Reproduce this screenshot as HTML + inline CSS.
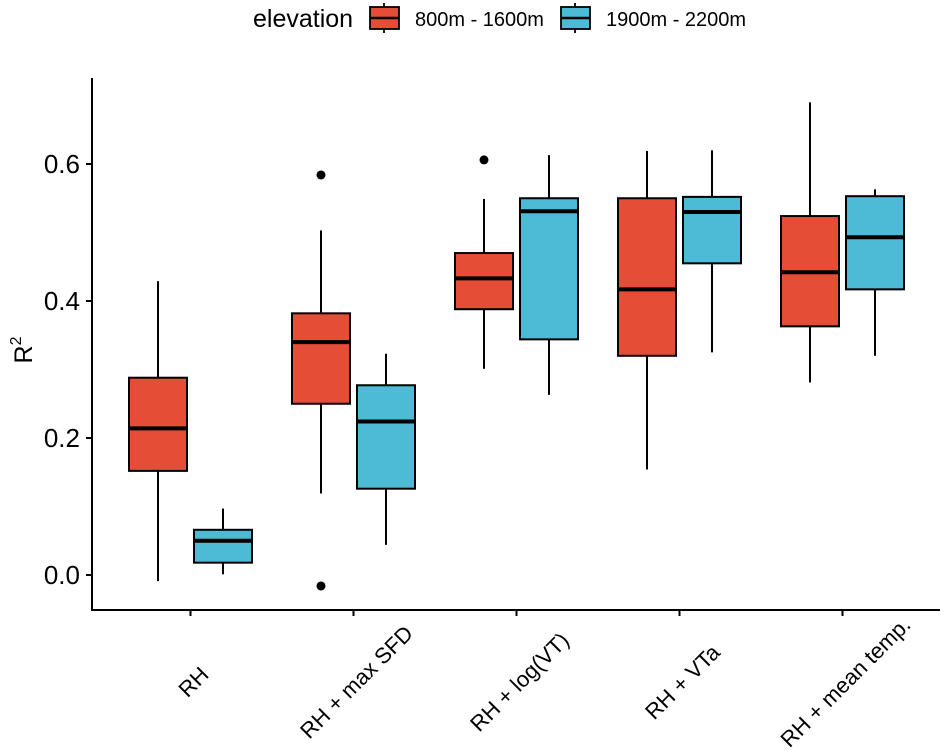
<!DOCTYPE html>
<html><head><meta charset="utf-8"><style>
html,body{margin:0;padding:0;background:#fff;}
svg{display:block;font-family:"Liberation Sans",Arial,sans-serif;}
</style></head><body>
<svg id="chart" width="945" height="752" viewBox="0 0 945 752" xmlns="http://www.w3.org/2000/svg">
<g id="legend">
<text x="253" y="27" font-size="25" fill="#000">elevation</text>
<g>
<line x1="384" y1="3" x2="384" y2="33" stroke="#000" stroke-width="1.8"/>
<rect x="370" y="7" width="29" height="22" fill="#E64D36" stroke="#000" stroke-width="1.8"/>
<line x1="370" y1="18" x2="399" y2="18" stroke="#000" stroke-width="2.5"/>
<text x="415" y="26" font-size="20">800m - 1600m</text>
</g>
<g>
<line x1="575" y1="3" x2="575" y2="33" stroke="#000" stroke-width="1.8"/>
<rect x="561" y="7" width="29" height="22" fill="#4DBBD6" stroke="#000" stroke-width="1.8"/>
<line x1="561" y1="18" x2="590" y2="18" stroke="#000" stroke-width="2.5"/>
<text x="606" y="26" font-size="20">1900m - 2200m</text>
</g>
</g>
<g id="axes"></g>
<g id="boxes"></g>
<text x="0" y="0" font-size="25" text-anchor="middle" transform="translate(32,350) rotate(-90)">R<tspan font-size="16" dy="-11">2</tspan></text>
</svg>
<script>
const categories = ["RH", "RH + max SFD", "RH + log(VT)", "RH + VTa", "RH + mean temp."];
const groups = ["800m - 1600m", "1900m - 2200m"];
const colors = ["#E64D36", "#4DBBD6"];
// [low whisker, Q1, median, Q3, high whisker] per category
const lowStats  = [[-0.009,0.152,0.214,0.288,0.429],[0.119,0.250,0.340,0.382,0.503],[0.301,0.388,0.433,0.470,0.549],[0.154,0.320,0.417,0.550,0.619],[0.281,0.363,0.442,0.524,0.690]];
const highStats = [[0.001,0.018,0.050,0.066,0.097],[0.044,0.126,0.224,0.277,0.323],[0.263,0.344,0.531,0.550,0.613],[0.325,0.455,0.530,0.552,0.620],[0.320,0.417,0.493,0.553,0.563]];
const lowOutliers  = [[],[0.584,-0.016],[0.606],[],[]];
const highOutliers = [[],[],[],[],[]];
const yTicks = [0.0, 0.2, 0.4, 0.6];
const yTickLabels = ["0.0", "0.2", "0.4", "0.6"];

const NS = "http://www.w3.org/2000/svg";
const plotL = 92, plotR = 940, plotB = 610, plotT = 78;
function yScale(v){ return 575 - 685*v; }
function xScale(i){ return 190.5 + 163*i; }
function mk(tag, attrs, parent){ const e=document.createElementNS(NS,tag); for(const k in attrs) e.setAttribute(k, attrs[k]); parent.appendChild(e); return e; }

const axes = document.getElementById('axes');
const yl = mk('line',{x1:plotL,y1:plotT,x2:plotL,y2:plotB,stroke:'#000','stroke-width':2},axes);


const xl = mk('line',{x1:plotL-1,y1:plotB,x2:plotR,y2:plotB,stroke:'#000','stroke-width':2},axes);


yTicks.forEach((t,i)=>{
  const y=yScale(t);
  const tk=mk('line',{x1:plotL-6,y1:y,x2:plotL,y2:y,stroke:'#000','stroke-width':2},axes);
  
  
  const tx=mk('text',{x:plotL-12,y:y+9,'font-size':26,'text-anchor':'end'},axes);
  tx.textContent=yTickLabels[i];
  
  
});
categories.forEach((c,i)=>{
  const x=xScale(i);
  const tk=mk('line',{x1:x,y1:plotB,x2:x,y2:plotB+6,stroke:'#000','stroke-width':2},axes);
  
  
  const tx=mk('text',{x:0,y:0,'font-size':22,'text-anchor':'middle','dominant-baseline':'central',transform:`translate(${x+3},682) rotate(-45)`},axes);
  tx.textContent=c;
  
  
});

const boxes=document.getElementById('boxes');
const W=58, off=32.5;
function drawBox(i,g,s,outs){
  const cx=xScale(i)+(g===0?-off:off);
  const grp=mk('g',{},boxes);
  
  
  mk('line',{x1:cx,y1:yScale(s[4]),x2:cx,y2:yScale(s[3]),stroke:'#000','stroke-width':2},grp);
  mk('line',{x1:cx,y1:yScale(s[1]),x2:cx,y2:yScale(s[0]),stroke:'#000','stroke-width':2},grp);
  mk('rect',{x:cx-W/2,y:yScale(s[3]),width:W,height:yScale(s[1])-yScale(s[3]),fill:colors[g],stroke:'#000','stroke-width':2},grp);
  mk('line',{x1:cx-W/2,y1:yScale(s[2]),x2:cx+W/2,y2:yScale(s[2]),stroke:'#000','stroke-width':4},grp);
  outs.forEach(o=>{
    const p=mk('circle',{cx:cx,cy:yScale(o),r:4.5,fill:'#000'},boxes);
    
    
  });
}
categories.forEach((c,i)=>{
  drawBox(i,0,lowStats[i],lowOutliers[i]);
  drawBox(i,1,highStats[i],highOutliers[i]);
});
</script>
</body></html>
